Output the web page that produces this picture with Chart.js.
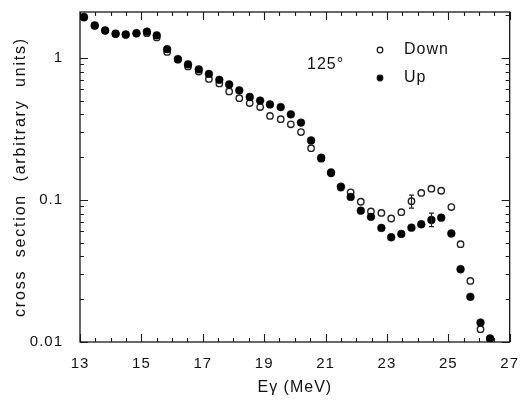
<!DOCTYPE html>
<html><head><meta charset="utf-8">
<script src="https://cdn.jsdelivr.net/npm/chart.js@4.4.0/dist/chart.umd.min.js"></script>
<style>html,body{margin:0;padding:0;background:#fff}#wrap{width:523px;height:401px}</style>
</head><body><div id="wrap"><canvas id="c" width="523" height="401"></canvas></div>
<script>
const energies = [13.13,13.48,13.82,14.16,14.49,14.84,15.18,15.50,15.84,16.19,16.52,16.87,17.20,17.54,17.86,18.19,18.53,18.87,19.19,19.54,19.87,20.20,20.53,20.86,21.18,21.50,21.82,22.15,22.48,22.82,23.14,23.47,23.80,24.12,24.45,24.77,25.10,25.40,25.72,26.05,26.36];
const downValues = [1.92,1.68,1.55,1.47,1.45,1.48,1.49,1.39,1.10,0.97,0.87,0.80,0.71,0.66,0.58,0.52,0.48,0.45,0.39,0.37,0.34,0.30,0.231,0.195,0.154,0.122,0.113,0.097,0.083,0.081,0.074,0.082,0.098,0.112,0.120,0.116,0.089,0.0488,0.0269,0.0123,0.0105];
const upValues = [1.94,1.69,1.56,1.48,1.46,1.49,1.53,1.44,1.15,0.98,0.90,0.83,0.77,0.70,0.65,0.59,0.53,0.50,0.47,0.45,0.40,0.35,0.262,0.198,0.156,0.124,0.105,0.084,0.076,0.0635,0.0546,0.0576,0.0638,0.0674,0.0723,0.075,0.058,0.0325,0.0208,0.0137,0.0106];
const errSeries = ['Down','Up'];
const errX = [23.80, 24.45];
const errLow = [0.0875, 0.0649];
const errHigh = [0.108, 0.0806];
const xTickLabels = [13,15,17,19,21,23,25,27];
const yTickLabels = [0.01,0.1,1];
const angleLabel = '125°';

const FONT = "'Liberation Sans', Arial, sans-serif";

function patchTitleSpacing(s, spacing) {
  if (s._spacingPatched) return;
  s._spacingPatched = true;
  const orig = s.drawTitle;
  s.drawTitle = function () {
    const ctx = this.ctx;
    const prev = ctx.letterSpacing;
    ctx.letterSpacing = spacing;
    orig.apply(this, arguments);
    ctx.letterSpacing = prev;
  };
}

const framePlugin = {
  id: 'frame',
  beforeDraw(chart) {
    chart.ctx.letterSpacing = '1px';
  },
  beforeDatasetsDraw(chart) {
    const ctx = chart.ctx;
    ctx.letterSpacing = '0px';
    const a = chart.chartArea;
    const xs = chart.scales.x, ys = chart.scales.y;
    ctx.save();
    ctx.strokeStyle = '#1a1a1a';
    ctx.lineWidth = 1.3;
    ctx.strokeRect(a.left, a.top, a.right - a.left, a.bottom - a.top);
    ctx.lineWidth = 1.1;
    ctx.beginPath();
    for (let v = 13; v <= 27.001; v += 0.5) {
      const p = Math.round(xs.getPixelForValue(v)) + 0.5;
      const major = Math.abs((v - 13) % 2) < 1e-6;
      const L = major ? 8 : 4;
      ctx.moveTo(p, a.bottom); ctx.lineTo(p, a.bottom - L);
      ctx.moveTo(p, a.top); ctx.lineTo(p, a.top + L);
    }
    for (const d of [0.01, 0.1, 1]) {
      for (let m = 1; m <= 9; m++) {
        const v = d * m;
        if (v > ys.max) break;
        const p = Math.round(ys.getPixelForValue(v)) + 0.5;
        const L = m === 1 ? 8 : 4;
        ctx.moveTo(a.left, p); ctx.lineTo(a.left + L, p);
        ctx.moveTo(a.right, p); ctx.lineTo(a.right - L, p);
      }
    }
    ctx.stroke();
    ctx.restore();
  },
  afterDatasetsDraw(chart) {
    const ctx = chart.ctx;
    const xs = chart.scales.x, ys = chart.scales.y;
    ctx.save();
    ctx.strokeStyle = '#222';
    ctx.lineWidth = 1.2;
    for (let i = 0; i < errX.length; i++) {
      const px = Math.round(xs.getPixelForValue(errX[i])) + 0.5;
      const y1 = ys.getPixelForValue(errLow[i]);
      const y2 = ys.getPixelForValue(errHigh[i]);
      ctx.beginPath();
      ctx.moveTo(px, y1); ctx.lineTo(px, y2);
      ctx.moveTo(px - 2.5, y1); ctx.lineTo(px + 2.5, y1);
      ctx.moveTo(px - 2.5, y2); ctx.lineTo(px + 2.5, y2);
      ctx.stroke();
    }
    // annotation and legend
    ctx.fillStyle = '#111';
    ctx.font = '16px ' + FONT;
    ctx.letterSpacing = '1px';
    ctx.textBaseline = 'middle';
    ctx.textAlign = 'left';
    ctx.fillText(angleLabel, 307, 65);
    const items = [
      {label: chart.data.datasets[1].label, fill: '#fff', y: 50},
      {label: chart.data.datasets[0].label, fill: '#000', y: 78}
    ];
    for (const it of items) {
      ctx.beginPath();
      ctx.arc(380, it.y, 2.8, 0, Math.PI * 2);
      ctx.fillStyle = it.fill; ctx.fill();
      ctx.lineWidth = 1.2; ctx.strokeStyle = '#111'; ctx.stroke();
      ctx.fillStyle = '#111';
      ctx.fillText(it.label, 404, it.y);
    }
    ctx.restore();
  }
};

const toPts = (vals) => energies.map((e, i) => ({x: e, y: vals[i]}));

new Chart(document.getElementById('c'), {
  type: 'scatter',
  data: {
    datasets: [
      {label: 'Up', data: toPts(upValues), order: 0, pointRadius: 3.9, pointBackgroundColor: '#000', pointBorderColor: '#000', pointBorderWidth: 0.5},
      {label: 'Down', data: toPts(downValues), order: 1, pointRadius: 3.2, pointBackgroundColor: '#fff', pointBorderColor: '#222', pointBorderWidth: 1.4}
    ]
  },
  options: {
    responsive: false,
    animation: false,
    devicePixelRatio: 1,
    layout: {padding: {left: 0, right: 11, top: 12, bottom: 0}},
    plugins: {legend: {display: false}, tooltip: {enabled: false}},
    scales: {
      x: {
        type: 'linear', min: 13, max: 27,
        afterBuildTicks: (s) => { s.ticks = xTickLabels.map(v => ({value: v})); },
        ticks: {color: '#111', font: {family: FONT, size: 15}, padding: 5, maxRotation: 0, autoSkip: false},
        grid: {display: false, drawTicks: true, tickLength: 8},
        border: {display: false},
        title: {display: true, text: 'Eγ (MeV)', color: '#111', font: {family: FONT, size: 16}, padding: {top: 0, bottom: 4}},
        afterFit: (s) => { s.height = 59; }
      },
      y: {
        type: 'logarithmic', min: 0.01, max: 2.1,
        afterBuildTicks: (s) => { s.ticks = yTickLabels.map(v => ({value: v})); },
        ticks: {color: '#111', font: {family: FONT, size: 15}, padding: 0, callback: (v) => String(v)},
        grid: {display: false, drawTicks: true, tickLength: 17},
        border: {display: false},
        title: {display: true, text: 'cross  section  (arbitrary  units)', color: '#111', font: {family: FONT, size: 16}, padding: {top: 11, bottom: 0}},
        afterFit: (s) => { s.width = 80; patchTitleSpacing(s, '1.8px'); }
      }
    }
  },
  plugins: [framePlugin]
});
</script></body></html>
